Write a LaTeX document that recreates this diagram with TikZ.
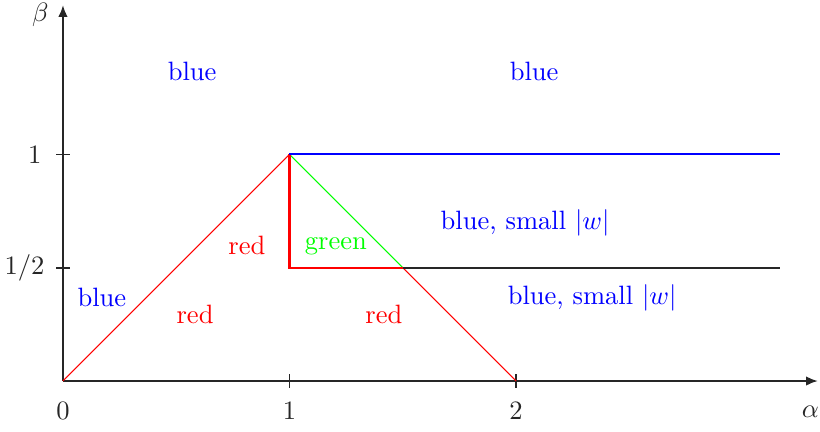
\documentclass[tikz,border=0pt]{standalone}
\usepackage{amsmath,amssymb}
\usetikzlibrary{arrows.meta,calc,positioning}
\tikzset{
    myaxis/.style={line width=0.8pt,draw=black!85,-{Latex[length=4.5pt,width=3.6pt]}},
    mytick/.style={line width=0.7pt,draw=black!85},
    thinline/.style={line width=0.4pt},
    thickline/.style={line width=0.9pt},
    midline/.style={line width=0.75pt},
    every node/.style={font=\normalsize}
}

\begin{document}
\begin{tikzpicture}[x=3cm,y=3cm]
  \useasboundingbox (-0.278,-0.221) rectangle (3.342,1.682);

  \coordinate (O) at (0,0);
  \coordinate (A) at (1,1);
  \coordinate (B) at (1,0.5);
  \coordinate (C) at (1.5,0.5);
  \coordinate (D) at (2,0);
  \coordinate (E) at (3.166,1);
  \coordinate (F) at (3.166,0.5);
  \coordinate (XE) at (3.333,0);
  \coordinate (YE) at (0,1.66);

  % 坐标轴
  \draw[myaxis] (O)--(XE);
  \draw[myaxis] (O)--(YE);

  % 刻度
  \foreach \x in {1,2}{
    \draw[mytick] (\x,-0.03)--(\x,0.03);
  }
  \foreach \y in {0.5,1}{
    \draw[mytick] (-0.03,\y)--(0.03,\y);
  }

  % 刻度标签
  \node[text=black!85] (l0) at (0,-0.13) {$0$};
  \node[text=black!85] (l1) at (1,-0.13) {$1$};
  \node[text=black!85] (l2) at (2,-0.13) {$2$};
  \node[text=black!85] (la) at (3.30,-0.135) {$\alpha$};
  \node[text=black!85] (lb) at (-0.1,1.615) {$\beta$};
  \node[text=black!85] (ly1) at (-0.125,1) {$1$};
  \node[text=black!85] (ly2) at (-0.17,0.5) {$1/2$};

  % 区域边界
  \draw[red,thinline] (O)--(A);
  \draw[green,thinline] (A)--(C);
  \draw[red,thinline] (C)--(D);
  \draw[red,thickline] (A)--(B)--(C);
  \draw[blue,midline] (A)--(E);
  \draw[black!85,thickline] (C)--(F);

  % 区域标签
  \node[text=blue] (r1) at (0.57,1.367) {blue};
  \node[text=blue] (r2) at (2.08,1.367) {blue};
  \node[text=blue] (r3) at (2.04,0.70) {blue, small $|w|$};
  \node[text=blue] (r4) at (2.336,0.367) {blue, small $|w|$};
  \node[text=blue] (r5) at (0.172,0.367) {blue};
  \node[text=red] (r6) at (0.583,0.292) {red};
  \node[text=red] (r7) at (0.812,0.597) {red};
  \node[text=green] (r8) at (1.205,0.597) {green};
  \node[text=red] (r9) at (1.417,0.292) {red};
\end{tikzpicture}
\end{document}
